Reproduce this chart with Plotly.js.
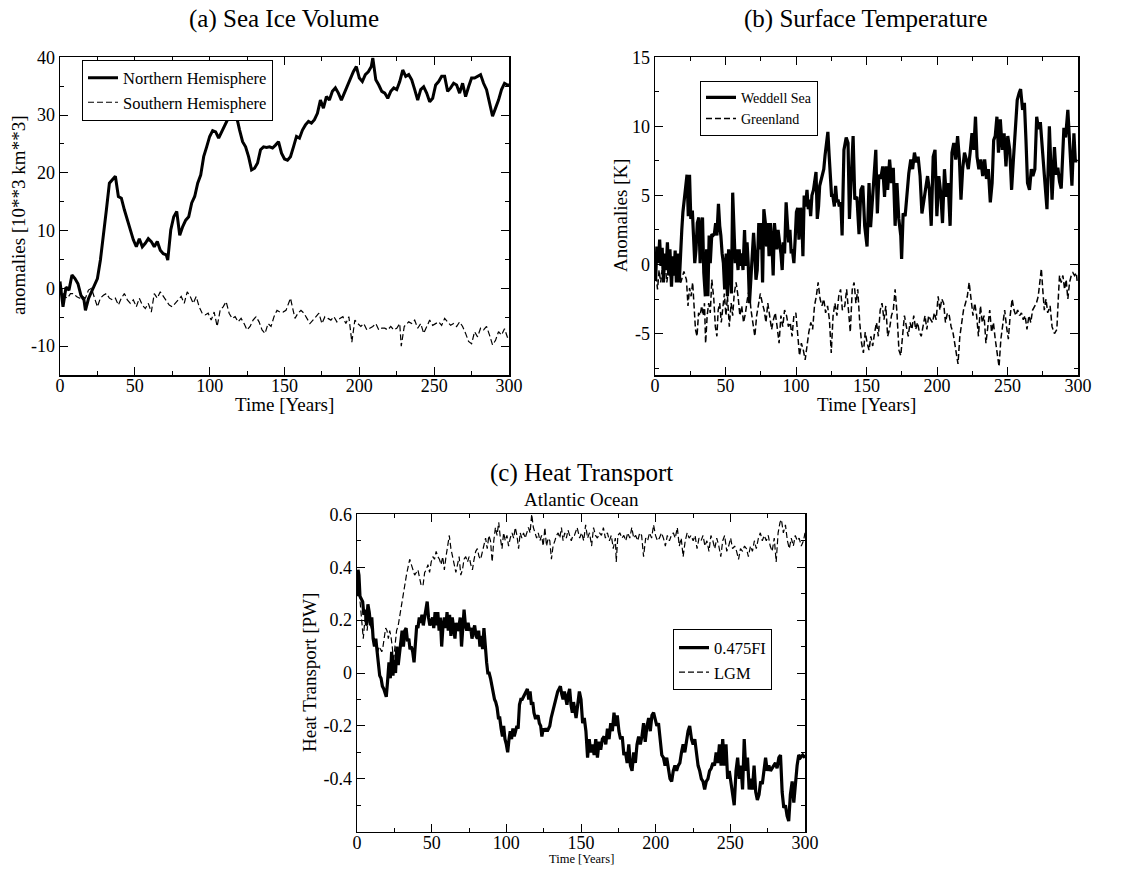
<!DOCTYPE html>
<html>
<head>
<meta charset="utf-8">
<script src="https://cdn.plot.ly/plotly-3.0.1.min.js"></script>
<style>html,body{margin:0;padding:0;background:#fff;}#chart{width:1126px;height:869px;}</style>
</head>
<body>
<div id="chart"></div>
<script>
// ---------- DATA (year, value) ----------
const nhVolume = [[0,1.2],[2,-3.2],[4,0.2],[6,-0.3],[8,2.3],[10,1.7],[12,0.8],[14,-1.2],[16,-2.0],[17,-3.8],[19,-1.8],[21,-0.6],[23,0.3],[25,1.7],[27,4.9],[29,8.9],[31,13.6],[33,18.2],[35,18.8],[37,19.4],[39,15.9],[41,15.6],[43,13.6],[45,11.8],[47,10.1],[49,8.4],[51,7.2],[53,8.6],[55,7.2],[57,7.8],[59,8.6],[61,8.1],[63,7.2],[65,8.1],[67,6.6],[69,6.0],[71,5.8],[72,4.9],[74,10.1],[76,12.4],[78,13.3],[80,9.2],[82,10.7],[84,11.8],[86,12.4],[88,14.8],[90,15.9],[92,18.2],[94,19.6],[96,22.8],[98,24.5],[100,26.3],[102,27.3],[104,27.1],[106,26.0],[108,27.1],[110,28.0],[112,29.2],[114,30.3],[116,29.7],[118,29.7],[120,27.4],[122,25.4],[124,24.5],[126,22.8],[128,20.5],[130,20.8],[132,21.7],[134,24.0],[136,24.5],[138,24.4],[140,24.5],[142,24.3],[144,24.8],[146,25.4],[148,23.4],[150,22.4],[152,22.2],[154,22.8],[156,24.5],[158,26.3],[160,26.0],[162,27.4],[164,28.3],[166,28.9],[168,28.6],[170,29.2],[172,30.3],[174,32.6],[176,31.2],[178,33.2],[180,32.6],[182,34.1],[184,34.7],[186,33.8],[188,32.6],[190,33.8],[192,34.9],[194,36.4],[196,37.5],[198,38.4],[200,36.4],[202,35.8],[204,37.0],[206,37.5],[208,38.4],[209,39.9],[211,36.1],[213,35.2],[215,34.1],[217,33.8],[219,32.9],[221,34.1],[223,34.7],[225,34.4],[227,35.8],[229,37.8],[231,36.7],[233,37.0],[235,36.1],[237,34.4],[239,32.6],[241,34.4],[243,34.9],[245,33.8],[247,32.3],[249,32.9],[251,35.2],[253,35.8],[255,36.7],[257,36.7],[259,34.1],[261,34.7],[263,35.5],[265,35.2],[267,33.8],[269,35.5],[271,33.2],[273,34.9],[275,36.4],[277,36.4],[279,36.7],[281,37.0],[283,35.5],[285,34.4],[287,32.1],[289,29.8],[291,31.2],[293,32.6],[295,34.4],[297,35.5],[299,35.2],[300,35.2]];

const shVolume = [[0,0.6],[3,-1.4],[5,-1.7],[7,-0.9],[9,-0.9],[11,-1.4],[13,-1.7],[15,-1.4],[17,-1.7],[19,-0.3],[21,0],[23,-1.7],[25,-3.2],[27,-1.7],[29,-1.2],[31,-0.9],[33,-1.7],[35,-2.0],[37,-1.7],[39,-2.9],[41,-1.7],[43,-0.9],[45,-2.0],[47,-2.6],[49,-2.0],[51,-3.2],[53,-1.7],[55,-2.9],[57,-3.5],[59,-2.6],[61,-4.1],[63,-0.9],[65,-1.7],[67,-0.6],[69,-1.4],[71,-2.3],[73,-2.9],[75,-3.2],[77,-2.6],[79,-2.0],[81,-1.4],[83,-2.6],[85,-0.6],[87,-1.4],[89,-2.6],[91,-1.4],[93,-3.2],[95,-4.3],[97,-4.6],[99,-4.3],[101,-5.5],[103,-4.1],[105,-6.6],[107,-3.8],[109,-3.2],[111,-2.3],[113,-4.3],[115,-5.2],[117,-4.9],[119,-5.8],[121,-5.2],[123,-6.1],[125,-7.2],[127,-6.6],[129,-5.5],[131,-4.9],[133,-5.8],[135,-7.2],[137,-7.8],[139,-6.1],[141,-6.6],[143,-4.9],[145,-3.8],[147,-4.1],[149,-4.1],[151,-3.8],[152,-3.2],[154,-1.7],[155,-2.9],[157,-5.2],[159,-4.3],[161,-3.8],[163,-4.3],[165,-5.2],[167,-6.1],[169,-5.5],[171,-4.9],[173,-4.3],[175,-6.1],[177,-4.9],[179,-5.2],[181,-5.5],[183,-4.9],[185,-5.8],[187,-5.2],[189,-4.9],[191,-6.1],[193,-4.9],[195,-9.3],[197,-5.5],[199,-6.1],[201,-6.6],[203,-6.1],[205,-7.2],[207,-6.9],[209,-6.6],[211,-6.1],[213,-7.2],[215,-6.9],[217,-6.9],[219,-7.2],[221,-6.6],[223,-7.2],[225,-6.9],[227,-6.1],[228,-10.0],[230,-6.6],[233,-5.8],[235,-6.1],[237,-5.5],[239,-6.9],[241,-6.1],[243,-7.8],[245,-6.6],[247,-5.5],[249,-6.4],[251,-6.1],[253,-5.8],[255,-6.4],[257,-5.2],[259,-5.8],[261,-6.4],[263,-6.1],[265,-6.6],[267,-5.8],[269,-6.6],[271,-7.8],[273,-9.2],[275,-9.6],[277,-7.5],[279,-8.4],[281,-6.9],[283,-7.2],[285,-6.6],[287,-8.1],[289,-9.8],[291,-9.0],[293,-7.5],[295,-8.1],[297,-7.0],[299,-8.5],[300,-8.0]];

const weddellTemp = [[0.4,-1.2],[1.3,1.3],[2.4,0.1],[3.3,1.8],[4.2,-0.1],[5.1,1.2],[6.0,-1.3],[6.8,0.8],[7.9,-0.4],[8.8,1.6],[9.7,-0.8],[10.6,1.1],[11.7,-1.6],[12.6,0.6],[13.4,-0.8],[14.3,1.0],[15.2,-1.3],[16.1,0.8],[17.2,-1.3],[18.1,1.1],[19.0,2.5],[19.8,3.8],[20.7,4.7],[21.8,5.4],[22.7,6.5],[23.6,3.5],[24.5,6.5],[25.4,3.3],[26.5,3.9],[27.3,2.1],[28.2,0.1],[29.1,1.1],[30.0,3.0],[31.1,3.4],[32.0,0.1],[32.8,2.5],[33.7,3.4],[34.6,-0.6],[35.7,-2.3],[36.6,1.1],[37.5,-2.3],[38.4,2.1],[39.2,0.1],[40.3,2.2],[41.2,2.1],[42.1,2.2],[43.0,3.0],[43.9,2.1],[45.0,4.4],[45.9,2.8],[46.7,2.1],[47.6,0.8],[48.5,0.1],[49.4,-1.8],[50.5,0.8],[51.4,-2.3],[52.2,1.1],[53.1,0.1],[54.2,-2.1],[55.1,5.2],[56.0,2.1],[56.9,0.1],[57.8,1.1],[58.9,-0.4],[59.7,1.1],[60.6,-0.1],[61.5,0.8],[62.4,-0.4],[63.5,2.5],[64.4,-0.1],[65.3,1.6],[66.1,0.1],[67.0,-2.8],[68.1,-0.8],[69.0,0.6],[69.9,2.3],[70.8,0.8],[71.6,-1.1],[72.5,-0.4],[73.6,3.0],[74.5,1.1],[75.4,3.0],[76.3,-1.3],[77.2,4.0],[78.3,3.0],[79.1,1.3],[80.0,3.0],[80.9,0.6],[81.8,3.0],[82.9,1.6],[83.8,-0.8],[84.7,3.0],[85.5,2.1],[86.4,1.1],[87.3,2.5],[88.4,1.6],[89.3,0.8],[90.2,-0.4],[91.0,1.6],[91.9,0.8],[93.0,4.5],[93.9,3.0],[94.8,1.6],[95.7,2.5],[96.6,0.8],[97.4,1.1],[98.5,0.1],[99.4,1.8],[100.3,3.8],[101.2,4.1],[102.1,1.8],[103.2,4.1],[104.1,3.5],[104.9,0.6],[105.8,5.0],[106.7,4.2],[107.8,5.4],[108.7,4.0],[109.6,4.7],[110.4,3.5],[111.3,5.0],[112.4,5.4],[113.3,6.3],[114.2,6.7],[115.1,3.3],[116.0,4.2],[116.8,5.7],[117.9,6.2],[118.8,6.5],[119.7,6.9],[120.6,7.9],[121.5,8.6],[122.6,9.6],[123.5,7.9],[124.3,6.2],[125.2,5.0],[126.1,5.0],[127.2,4.2],[128.1,5.7],[129.0,4.5],[129.8,4.7],[130.7,4.2],[131.8,4.5],[132.7,2.1],[134.0,8.3],[135.6,9.2],[136.9,8.8],[137.9,3.3],[139.0,5.9],[140.5,9.3],[141.7,4.7],[143.2,4.9],[144.7,2.2],[146.0,5.4],[147.4,5.7],[148.7,2.8],[150.4,1.3],[151.8,5.9],[152.9,2.7],[154.0,4.2],[155.3,5.9],[156.6,8.3],[157.7,3.7],[158.8,6.5],[160.1,6.2],[161.5,7.1],[162.8,4.9],[163.9,7.1],[165.0,5.4],[166.4,7.6],[167.7,5.9],[169.0,7.0],[170.3,2.8],[171.6,5.9],[172.9,3.3],[174.3,2.1],[174.9,0.4],[176.0,3.7],[177.4,3.5],[178.7,5.4],[180.0,6.6],[181.4,7.6],[182.7,6.9],[184.0,8.1],[185.3,7.4],[186.6,7.8],[188.0,6.4],[189.3,3.7],[190.6,4.5],[191.9,5.4],[193.3,6.4],[194.6,5.4],[195.9,2.8],[197.3,7.8],[198.6,8.3],[199.9,3.5],[201.3,6.4],[202.6,5.2],[203.9,3.0],[205.3,6.9],[206.6,4.9],[207.9,5.9],[209.3,2.8],[210.6,8.1],[211.9,8.8],[213.3,7.6],[214.6,9.3],[215.9,7.6],[217.0,4.7],[218.2,6.9],[219.5,8.1],[220.8,7.6],[222.2,6.9],[223.5,8.1],[224.8,9.5],[226.1,8.3],[227.3,10.7],[228.4,7.8],[229.7,6.9],[231.1,7.6],[232.4,6.4],[233.8,7.6],[235.1,6.2],[236.4,6.9],[237.8,4.5],[239.1,5.9],[240.2,9.0],[241.3,9.3],[242.5,10.7],[243.6,8.1],[244.9,10.5],[246.3,8.3],[247.6,9.5],[248.9,7.1],[250.2,9.3],[251.6,8.3],[252.9,5.4],[254.2,7.6],[255.6,9.8],[256.9,11.9],[258.2,12.4],[259.3,12.7],[260.7,11.2],[262.0,11.7],[263.1,9.0],[264.2,5.9],[265.6,5.4],[266.9,6.9],[268.0,6.4],[269.4,6.9],[270.7,10.7],[272.0,9.8],[273.3,10.3],[274.6,8.3],[276.1,6.5],[278.0,4.0],[279.7,10.0],[281.6,4.7],[283.3,8.5],[284.5,6.5],[285.7,7.0],[286.9,6.0],[288.1,5.5],[290.0,9.9],[291.2,9.2],[292.8,11.2],[294.5,8.5],[295.7,5.7],[297.1,9.5],[298.1,7.5],[299.5,7.5]];

const greenlandTemp = [[0.7,-0.8],[1.8,-1.8],[2.9,-0.4],[4.0,-1.3],[5.1,-0.4],[6.2,-0.8],[7.3,-0.1],[8.4,-1.3],[9.5,-0.4],[11.7,-1.1],[13.9,-0.1],[16.1,-0.8],[18.3,-1.3],[20.5,-0.5],[22.3,-1.1],[23.4,-3.0],[24.5,-1.7],[25.6,-2.3],[26.7,-1.3],[27.8,-2.8],[28.7,-4.7],[29.8,-5.2],[30.9,-3.5],[32.0,-3.7],[33.1,-3.0],[34.2,-3.7],[35.1,-2.8],[35.9,-5.7],[37.0,-3.7],[38.1,-2.8],[39.2,-3.5],[40.3,-1.1],[41.7,-2.5],[42.8,-4.5],[43.9,-5.2],[44.8,-3.3],[45.9,-2.8],[47.0,-4.2],[48.1,-3.0],[49.2,-2.1],[50.3,-3.7],[51.4,-2.3],[52.7,-4.5],[54.0,-2.8],[55.1,-3.7],[56.2,-2.1],[57.5,-1.3],[58.9,-2.3],[60.2,-3.7],[61.5,-3.0],[62.8,-4.2],[64.2,-3.5],[65.5,-2.5],[66.8,-1.8],[68.1,-3.3],[69.4,-4.2],[70.8,-5.2],[72.1,-3.7],[73.4,-2.8],[74.7,-2.1],[76.1,-2.8],[77.4,-3.3],[78.7,-4.2],[80.0,-2.8],[81.3,-3.7],[82.7,-4.7],[84.0,-4.0],[85.3,-3.5],[86.6,-4.5],[88.0,-5.7],[89.3,-3.7],[90.6,-4.5],[91.9,-3.3],[93.3,-3.7],[94.6,-4.5],[95.9,-4.2],[97.2,-5.2],[98.5,-3.7],[99.9,-3.5],[101.2,-5.4],[102.5,-6.6],[103.8,-5.7],[105.2,-6.2],[106.5,-6.9],[107.8,-5.7],[109.1,-4.9],[110.5,-4.2],[111.8,-4.7],[113.1,-3.0],[114.4,-2.3],[115.7,-1.3],[117.1,-2.5],[118.4,-3.0],[119.7,-2.5],[121.0,-3.5],[122.4,-3.0],[123.7,-4.0],[125.0,-6.4],[126.3,-3.7],[127.6,-2.8],[129.0,-3.7],[130.3,-2.3],[131.6,-1.8],[132.9,-3.3],[134.6,-3.0],[135.9,-1.8],[137.2,-3.3],[138.5,-4.9],[139.9,-1.8],[141.2,-1.3],[142.5,-2.8],[143.8,-1.8],[145.2,-4.2],[146.5,-5.7],[147.8,-6.4],[149.1,-4.9],[150.5,-5.7],[151.8,-6.2],[153.1,-5.2],[154.4,-5.9],[155.8,-4.9],[157.1,-4.2],[158.4,-5.2],[159.7,-3.3],[161.0,-2.8],[162.4,-4.0],[163.7,-3.0],[165.0,-5.2],[166.3,-4.7],[167.7,-3.7],[169.0,-3.3],[170.3,-1.8],[171.6,-3.5],[173.0,-6.2],[174.3,-6.6],[175.6,-4.9],[176.9,-3.7],[178.3,-4.5],[179.6,-5.2],[180.9,-4.2],[182.2,-4.7],[183.5,-3.7],[184.9,-4.7],[186.2,-4.2],[187.5,-4.9],[188.8,-5.2],[190.2,-4.5],[191.5,-3.7],[192.8,-4.7],[194.1,-3.7],[195.5,-4.0],[196.8,-4.2],[198.1,-3.5],[199.4,-4.0],[200.8,-2.3],[202.1,-3.3],[203.4,-2.5],[204.7,-2.8],[206.0,-4.2],[207.4,-3.5],[208.7,-3.7],[210.0,-4.5],[211.3,-4.9],[212.7,-5.7],[214.0,-6.6],[214.9,-7.2],[216.2,-5.2],[217.5,-4.2],[218.8,-3.3],[220.2,-2.8],[221.5,-2.3],[222.8,-1.3],[224.1,-2.3],[225.5,-3.7],[226.8,-2.8],[228.1,-3.7],[229.4,-5.2],[230.8,-3.0],[232.1,-4.2],[233.4,-3.7],[234.7,-5.7],[236.1,-4.2],[237.4,-3.3],[238.7,-4.9],[240.0,-4.2],[241.3,-5.4],[242.7,-6.4],[244.0,-7.4],[245.3,-5.4],[246.6,-4.2],[248.0,-3.3],[249.3,-4.5],[250.6,-5.4],[251.9,-3.7],[253.3,-2.5],[254.6,-3.3],[255.9,-3.7],[257.2,-3.3],[258.6,-3.7],[259.9,-3.5],[261.2,-4.0],[262.5,-3.7],[263.8,-4.7],[265.2,-3.7],[266.5,-4.2],[267.8,-3.3],[269.1,-3.0],[270.5,-2.8],[271.8,-2.3],[273.1,-0.8],[274.0,-0.3],[275.0,-1.8],[276.1,-3.3],[277.3,-2.5],[278.5,-3.5],[280.2,-3.0],[281.6,-4.5],[283.3,-5.0],[285.0,-4.7],[286.2,-2.1],[286.9,-0.8],[288.1,-1.3],[289.3,-0.8],[290.5,-1.8],[291.6,-1.1],[292.8,-2.5],[294.0,-1.3],[295.2,-0.8],[296.4,-0.6],[297.6,-0.8],[298.8,-0.6],[299.5,-1.3]];

const fiHeat = [[0,0.29],[0.7,0.39],[1.3,0.37],[2.0,0.29],[2.9,0.28],[3.8,0.27],[4.6,0.22],[5.5,0.24],[6.4,0.18],[7.3,0.26],[8.2,0.23],[9.1,0.18],[9.9,0.21],[10.8,0.13],[11.7,0.10],[12.6,0.13],[13.5,0.08],[14.3,0.02],[15.2,-0.01],[16.1,-0.02],[17.0,-0.05],[17.9,-0.06],[18.8,-0.08],[19.6,-0.09],[20.5,-0.03],[21.4,0.04],[22.3,-0.02],[23.2,0.08],[24.1,-0.01],[24.9,0.05],[25.8,0.00],[26.7,0.10],[27.6,0.03],[28.5,0.08],[29.4,0.13],[30.2,0.16],[31.1,0.10],[32.0,0.16],[32.9,0.17],[33.8,0.12],[34.7,0.13],[35.5,0.09],[36.4,0.10],[37.3,0.08],[38.2,0.04],[39.1,0.13],[40.0,0.18],[40.8,0.17],[41.7,0.21],[42.6,0.19],[43.5,0.22],[44.4,0.18],[45.3,0.21],[46.1,0.23],[47.0,0.27],[47.9,0.21],[48.8,0.18],[49.7,0.19],[50.6,0.21],[51.4,0.17],[52.3,0.23],[53.2,0.18],[54.1,0.23],[55.0,0.16],[55.8,0.21],[56.7,0.10],[57.6,0.18],[58.5,0.21],[59.4,0.17],[60.3,0.23],[61.1,0.16],[62.0,0.22],[62.9,0.14],[63.8,0.21],[64.7,0.16],[65.6,0.13],[66.4,0.19],[67.3,0.16],[68.2,0.17],[69.1,0.21],[70.0,0.10],[70.9,0.19],[71.7,0.24],[72.6,0.18],[73.5,0.16],[74.4,0.19],[75.3,0.16],[76.2,0.17],[77.0,0.13],[77.9,0.16],[78.8,0.18],[79.7,0.14],[80.6,0.13],[81.5,0.16],[82.3,0.10],[83.2,0.14],[84.1,0.09],[85.0,0.17],[85.9,0.08],[86.8,0.04],[87.6,0.00],[88.5,0.00],[89.4,-0.02],[90.3,-0.05],[91.2,-0.08],[92.1,-0.10],[92.9,-0.11],[93.8,-0.13],[94.7,-0.17],[95.6,-0.17],[96.5,-0.21],[97.4,-0.24],[98.2,-0.20],[99.1,-0.25],[100.0,-0.27],[100.9,-0.30],[101.8,-0.25],[102.6,-0.22],[103.5,-0.25],[104.4,-0.21],[105.3,-0.24],[106.2,-0.22],[107.1,-0.20],[107.9,-0.21],[108.8,-0.12],[109.7,-0.10],[110.6,-0.10],[111.5,-0.09],[112.4,-0.08],[113.2,-0.07],[114.1,-0.06],[115.0,-0.10],[115.9,-0.07],[116.8,-0.12],[117.7,-0.11],[118.5,-0.15],[119.4,-0.17],[120.3,-0.17],[121.2,-0.16],[122.1,-0.19],[123.0,-0.20],[123.8,-0.24],[124.7,-0.21],[125.6,-0.22],[126.5,-0.21],[127.4,-0.22],[128.3,-0.21],[129.1,-0.20],[130.0,-0.17],[130.9,-0.15],[131.8,-0.12],[132.7,-0.10],[133.6,-0.08],[134.4,-0.07],[135.3,-0.06],[136.2,-0.05],[137.1,-0.08],[138.0,-0.10],[138.9,-0.07],[139.7,-0.10],[140.6,-0.12],[141.5,-0.08],[142.4,-0.06],[143.3,-0.12],[144.2,-0.15],[145.0,-0.11],[146.7,-0.17],[147.8,-0.12],[148.9,-0.07],[150.0,-0.10],[151.1,-0.19],[152.2,-0.17],[153.3,-0.22],[154.4,-0.32],[155.5,-0.25],[156.6,-0.30],[157.7,-0.27],[158.8,-0.31],[159.9,-0.25],[161.0,-0.32],[162.1,-0.26],[163.2,-0.29],[164.3,-0.25],[165.5,-0.24],[166.6,-0.27],[167.7,-0.21],[168.8,-0.25],[169.9,-0.19],[171.0,-0.22],[172.1,-0.15],[173.2,-0.20],[174.3,-0.16],[175.4,-0.22],[176.5,-0.25],[177.6,-0.24],[178.7,-0.31],[179.8,-0.30],[180.9,-0.34],[182.0,-0.27],[183.1,-0.35],[184.2,-0.37],[185.3,-0.30],[186.4,-0.34],[187.5,-0.27],[188.6,-0.24],[189.7,-0.27],[190.8,-0.24],[191.9,-0.19],[193.0,-0.26],[194.2,-0.20],[195.3,-0.17],[196.4,-0.22],[197.5,-0.16],[198.6,-0.15],[199.7,-0.17],[200.8,-0.20],[201.9,-0.19],[203.0,-0.24],[204.1,-0.31],[205.2,-0.32],[206.3,-0.35],[207.4,-0.32],[208.5,-0.36],[209.6,-0.40],[210.7,-0.41],[211.8,-0.37],[212.9,-0.35],[214.0,-0.37],[215.1,-0.35],[216.2,-0.34],[217.3,-0.30],[218.4,-0.27],[219.5,-0.30],[220.6,-0.25],[221.7,-0.22],[222.8,-0.20],[224.0,-0.25],[225.1,-0.27],[226.2,-0.25],[227.3,-0.30],[228.4,-0.35],[229.5,-0.37],[230.6,-0.40],[231.7,-0.41],[232.8,-0.44],[233.9,-0.41],[235.0,-0.40],[236.1,-0.37],[237.2,-0.36],[238.3,-0.34],[239.4,-0.35],[240.5,-0.30],[241.6,-0.34],[242.7,-0.27],[243.8,-0.35],[244.9,-0.25],[246.0,-0.35],[247.1,-0.27],[248.2,-0.40],[249.3,-0.37],[250.4,-0.42],[251.5,-0.45],[252.6,-0.50],[253.8,-0.37],[254.9,-0.32],[256.0,-0.40],[257.1,-0.35],[258.2,-0.44],[259.3,-0.25],[260.4,-0.37],[261.5,-0.32],[262.6,-0.44],[263.7,-0.40],[264.8,-0.44],[265.9,-0.35],[267.0,-0.45],[268.1,-0.48],[269.2,-0.46],[270.3,-0.41],[271.4,-0.42],[272.5,-0.36],[273.6,-0.32],[274.7,-0.37],[275.8,-0.35],[276.9,-0.37],[278.0,-0.36],[279.1,-0.35],[280.2,-0.34],[281.3,-0.36],[282.5,-0.32],[283.6,-0.31],[284.7,-0.45],[285.8,-0.51],[286.9,-0.50],[288.0,-0.54],[289.1,-0.56],[290.2,-0.46],[291.4,-0.41],[292.5,-0.49],[293.6,-0.41],[294.7,-0.35],[295.8,-0.31],[297.0,-0.32],[298.5,-0.31],[300.0,-0.32]];

const lgmHeat = [[0,0.32],[0.7,0.38],[1.3,0.32],[2.2,0.26],[3.3,0.21],[4.2,0.13],[5.1,0.19],[6.0,0.23],[6.8,0.16],[7.7,0.22],[8.6,0.19],[9.5,0.17],[10.4,0.14],[11.3,0.13],[12.1,0.12],[13.0,0.10],[13.9,0.08],[14.8,0.10],[15.7,0.09],[16.6,0.08],[17.4,0.10],[18.3,0.13],[19.2,0.17],[20.1,0.16],[21.0,0.13],[21.9,0.16],[22.7,0.14],[23.6,0.10],[24.5,0.04],[25.4,0.10],[26.5,0.16],[27.6,0.18],[28.7,0.22],[29.8,0.26],[30.9,0.29],[32.0,0.33],[33.1,0.37],[34.2,0.40],[35.3,0.43],[36.4,0.41],[37.5,0.39],[38.6,0.37],[39.7,0.38],[40.8,0.39],[41.9,0.36],[43.0,0.33],[44.2,0.33],[45.3,0.38],[46.4,0.39],[47.5,0.41],[48.6,0.38],[49.7,0.42],[50.8,0.44],[51.9,0.43],[53.0,0.46],[54.1,0.44],[55.2,0.43],[56.3,0.41],[57.4,0.44],[58.5,0.39],[59.6,0.44],[60.7,0.48],[61.8,0.52],[62.9,0.47],[64.0,0.44],[65.1,0.42],[66.2,0.38],[67.3,0.41],[68.4,0.44],[69.5,0.37],[70.6,0.39],[71.7,0.43],[72.8,0.44],[74.0,0.42],[75.1,0.44],[76.2,0.41],[77.3,0.39],[78.4,0.43],[79.5,0.46],[80.6,0.47],[81.7,0.44],[82.8,0.43],[83.9,0.46],[85.0,0.48],[86.1,0.51],[87.2,0.47],[88.3,0.52],[89.4,0.50],[90.5,0.42],[91.6,0.50],[92.7,0.55],[93.8,0.52],[94.9,0.57],[96.0,0.51],[97.1,0.47],[98.2,0.53],[99.3,0.50],[100.4,0.52],[101.5,0.48],[102.6,0.51],[103.8,0.53],[104.9,0.51],[106.0,0.55],[107.1,0.52],[108.2,0.47],[109.3,0.53],[110.4,0.51],[111.5,0.53],[112.6,0.51],[113.7,0.53],[114.8,0.55],[115.9,0.53],[117.0,0.60],[118.1,0.55],[119.2,0.53],[120.3,0.51],[121.4,0.53],[122.5,0.50],[123.6,0.52],[124.7,0.48],[125.8,0.55],[126.9,0.48],[128.0,0.51],[129.1,0.50],[130.2,0.43],[131.3,0.48],[132.5,0.50],[133.6,0.52],[134.7,0.53],[135.8,0.51],[136.9,0.55],[138.0,0.50],[139.1,0.53],[140.2,0.51],[141.3,0.54],[142.4,0.52],[143.5,0.50],[144.6,0.52],[145.6,0.52],[147.4,0.55],[149.1,0.51],[150.4,0.53],[151.8,0.50],[153.1,0.56],[154.4,0.51],[155.7,0.53],[157.1,0.48],[158.4,0.55],[159.7,0.52],[161.0,0.51],[162.4,0.53],[163.7,0.52],[165.0,0.55],[166.3,0.51],[167.7,0.53],[169.0,0.50],[170.3,0.52],[171.6,0.47],[173.0,0.51],[173.6,0.42],[174.7,0.52],[176.0,0.53],[177.4,0.51],[178.7,0.52],[180.0,0.50],[181.3,0.53],[182.7,0.51],[184.0,0.55],[185.3,0.51],[186.6,0.52],[188.0,0.50],[189.3,0.53],[190.6,0.52],[191.9,0.44],[193.3,0.51],[194.6,0.50],[195.9,0.53],[197.3,0.51],[198.6,0.56],[199.9,0.52],[201.2,0.50],[202.5,0.51],[203.9,0.53],[205.2,0.51],[206.5,0.48],[207.8,0.52],[209.2,0.50],[210.5,0.52],[211.8,0.53],[213.1,0.51],[214.5,0.55],[215.8,0.48],[217.1,0.51],[218.4,0.44],[219.8,0.50],[221.1,0.53],[222.4,0.51],[223.7,0.52],[225.1,0.50],[226.4,0.52],[227.7,0.47],[229.0,0.51],[230.4,0.50],[231.7,0.52],[233.0,0.48],[234.3,0.50],[235.7,0.46],[237.0,0.52],[238.3,0.50],[239.6,0.47],[240.9,0.51],[242.3,0.48],[243.6,0.44],[244.9,0.50],[246.2,0.52],[247.6,0.46],[248.9,0.48],[250.2,0.51],[251.5,0.47],[252.9,0.48],[254.2,0.46],[255.5,0.43],[256.8,0.47],[258.2,0.46],[259.5,0.48],[260.8,0.47],[262.1,0.44],[263.5,0.48],[264.8,0.46],[266.1,0.50],[267.4,0.47],[268.8,0.51],[270.1,0.53],[271.4,0.50],[272.7,0.52],[274.1,0.50],[275.4,0.52],[276.7,0.48],[278.0,0.46],[279.4,0.51],[280.7,0.42],[282.0,0.53],[283.3,0.57],[284.2,0.58],[285.5,0.53],[286.9,0.56],[288.2,0.50],[289.5,0.47],[290.8,0.51],[292.2,0.48],[293.5,0.52],[294.8,0.50],[296.1,0.51],[297.5,0.48],[299.0,0.50],[300.0,0.53]];

// tick labels
const iceTicks = [-10, 0, 10, 20, 30, 40];
const iceTickText = ['-10', '0', '10', '20', '30', '40'];
const tempTicks = [-5, 0, 5, 10, 15];
const tempTickText = ['-5', '0', '5', '10', '15'];
const heatTicks = [-0.4, -0.2, 0, 0.2, 0.4, 0.6];
const heatTickText = ['-0.4', '-0.2', '0', '0.2', '0.4', '0.6'];

// ---------- PLOT ----------
const FONT = 'Liberation Serif, Times New Roman, serif';
const W = 1126, H = 869;
const px = v => v / W;
const py = v => 1 - v / H;

const xs = a => a.map(p => p[0]);
const ys = a => a.map(p => p[1]);

function line(data, name, xa, ya, leg, width, dash) {
  return {
    x: xs(data), y: ys(data), name: name, type: 'scatter', mode: 'lines',
    xaxis: xa, yaxis: ya, legend: leg,
    line: {color: '#000', width: width, dash: dash || 'solid'},
    hoverinfo: 'skip'
  };
}

const traces = [
  line(nhVolume, 'Northern Hemisphere', 'x', 'y', 'legend', 3),
  line(shVolume, 'Southern Hemisphere', 'x', 'y', 'legend', 1.2, '6px,3px'),
  line(weddellTemp, 'Weddell Sea', 'x2', 'y2', 'legend2', 3.2),
  line(greenlandTemp, 'Greenland', 'x2', 'y2', 'legend2', 1.5, '6px,3px'),
  line(fiHeat, '0.475FI', 'x3', 'y3', 'legend3', 3.2),
  line(lgmHeat, 'LGM', 'x3', 'y3', 'legend3', 1.2, '6px,3px')
];

const axisCommon = {
  showline: true, linecolor: '#000', linewidth: 1.5, mirror: 'allticks',
  ticks: 'inside', ticklen: 8, tickwidth: 1, tickcolor: '#000',
  showgrid: false, zeroline: false, fixedrange: true,
  tickfont: {family: FONT, size: 18, color: '#000'}
};
function xAxis(domain, anchor) {
  return Object.assign({}, axisCommon, {
    domain: domain, anchor: anchor, range: [0, 300],
    tickmode: 'linear', tick0: 0, dtick: 50, ticklabelstandoff: -6,
    minor: {ticks: 'inside', ticklen: 4, tickwidth: 1, tickcolor: '#000', dtick: 25, tick0: 0, showgrid: false}
  });
}
function yAxis(domain, anchor, range, vals, text, minorStep) {
  return Object.assign({}, axisCommon, {
    domain: domain, anchor: anchor, range: range,
    tickmode: 'array', tickvals: vals, ticktext: text,
    minor: {ticks: 'inside', ticklen: 4, tickwidth: 1, tickcolor: '#000', tickmode: 'linear', tick0: 0, dtick: minorStep, showgrid: false}
  });
}

const topY = [py(375), py(57.3)];
const botY = [py(831.7), py(514.3)];

const legendCommon = {
  xanchor: 'left', yanchor: 'top', bgcolor: '#fff',
  bordercolor: '#000', borderwidth: 1, itemwidth: 30, tracegroupgap: 0
};

function ann(text, x, y, size, angle) {
  return {text: text, x: px(x), y: py(y), xref: 'paper', yref: 'paper',
    xanchor: 'center', yanchor: 'middle', showarrow: false, textangle: angle || 0,
    font: {family: FONT, size: size, color: '#000'}};
}

const layout = {
  width: W, height: H,
  margin: {l: 0, r: 0, t: 0, b: 0},
  paper_bgcolor: '#fff', plot_bgcolor: '#fff',
  font: {family: FONT, color: '#000'},
  showlegend: true,
  xaxis: xAxis([px(60), px(509)], 'y'),
  yaxis: yAxis(topY, 'x', [-15, 40], iceTicks, iceTickText, 5),
  xaxis2: xAxis([px(655), px(1078)], 'y2'),
  yaxis2: yAxis(topY, 'x2', [-8, 15], tempTicks, tempTickText, 2.5),
  xaxis3: xAxis([px(357), px(805)], 'y3'),
  yaxis3: yAxis(botY, 'x3', [-0.6, 0.6], heatTicks, heatTickText, 0.1),
  legend: Object.assign({}, legendCommon, {x: px(82), y: py(59.6), font: {family: FONT, size: 16.5, color: '#000'}}),
  legend2: Object.assign({}, legendCommon, {x: px(700), y: py(80.7), font: {family: FONT, size: 14, color: '#000'}}),
  legend3: Object.assign({}, legendCommon, {x: px(673), y: py(629.4), font: {family: FONT, size: 16.5, color: '#000'}}),
  annotations: [
    ann('(a) Sea Ice Volume', 284, 19, 25),
    ann('(b) Surface Temperature', 866, 19, 25),
    ann('(c) Heat Transport', 581, 473, 25),
    ann('Atlantic Ocean', 581, 499, 19),
    ann('anomalies [10**3 km**3]', 18, 216, 19, -90),
    ann('Anomalies [K]', 620, 216, 19, -90),
    ann('Heat Transport [PW]', 309, 673, 19, -90),
    ann('Time [Years]', 284, 405, 19),
    ann('Time [Years]', 866, 405, 19),
    ann('Time [Years]', 581, 859, 12.5)
  ]
};

Plotly.newPlot('chart', traces, layout, {staticPlot: true, displayModeBar: false});
</script>
</body>
</html>
